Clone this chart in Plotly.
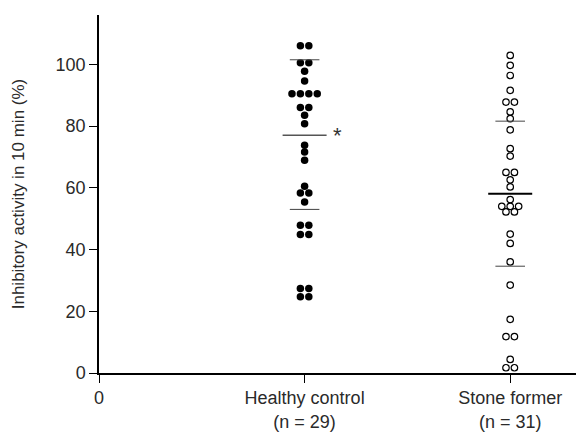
import plotly.graph_objects as go
from collections import Counter

# ---- data ----
healthy_values = [106, 106, 100.5, 100.5, 97.8, 94.6, 90.5, 90.5, 90.5, 90.5,
                  86, 86, 83.5, 80.8, 73.8, 71.6, 68.9, 60.5, 58.3, 58.3,
                  55.4, 47.9, 47.9, 44.9, 44.9, 27.4, 27.4, 24.7, 24.7]
stone_values = [102.9, 99.7, 96.4, 91.6, 87.8, 87.8, 84.6, 82.4, 78.8, 72.7,
                70.3, 65.0, 65.0, 62.6, 60.3, 56.2, 54.0, 54.0, 54.0, 52.2,
                52.2, 45.0, 42.0, 36.0, 28.5, 17.4, 11.8, 11.8, 4.4, 1.7, 1.7]
# summary lines drawn in the figure: mean, mean+SD, mean-SD
healthy_lines = {"mean": 77.0, "upper": 101.5, "lower": 53.0}
stone_lines = {"mean": 58.1, "upper": 81.6, "lower": 34.6}

tick_vals = [0, 1, 2]
tick_text = ["0", "Healthy control<br>(n = 29)", "Stone former<br>(n = 31)"]
y_ticks = [0, 20, 40, 60, 80, 100]

FONT = "Liberation Sans, Arial, sans-serif"
SPACING = 0.041


def spread(values, center):
    counts = Counter(values)
    seen = Counter()
    xs = []
    for v in values:
        n = counts[v]
        i = seen[v]
        seen[v] += 1
        xs.append(center + (i - (n - 1) / 2) * SPACING)
    return xs


fig = go.Figure()

fig.add_trace(go.Scatter(
    x=spread(healthy_values, 1), y=healthy_values, mode="markers",
    marker=dict(symbol="circle", size=7.5, color="black"),
    hoverinfo="skip", showlegend=False))
fig.add_trace(go.Scatter(
    x=spread(stone_values, 2), y=stone_values, mode="markers",
    marker=dict(symbol="circle-open", size=6.5, color="black", line=dict(width=1.2)),
    hoverinfo="skip", showlegend=False))


def add_lines(center, lines, mean_color, mean_width):
    for key, val in lines.items():
        half = 0.107 if key == "mean" else 0.072
        fig.add_trace(go.Scatter(
            x=[center - half, center + half], y=[val, val], mode="lines",
            line=dict(color=mean_color if key == "mean" else "#555",
                      width=mean_width if key == "mean" else 1.1),
            hoverinfo="skip", showlegend=False))


add_lines(1, healthy_lines, "#555", 1.5)
add_lines(2, stone_lines, "black", 2)

fig.add_annotation(x=1.158, y=healthy_lines["mean"], text="*", showarrow=False,
                   font=dict(family=FONT, size=22, color="#333"), yshift=0)

fig.update_layout(
    width=576, height=435,
    margin=dict(l=99, r=0, t=15, b=62),
    paper_bgcolor="white", plot_bgcolor="white",
    font=dict(family=FONT, size=18, color="#2a2a2a"),
    xaxis=dict(range=[0, 2.32], tickvals=tick_vals, ticktext=tick_text,
               showline=True, linecolor="black", linewidth=1.5,
               ticks="outside", ticklen=8, tickcolor="black", tickwidth=1,
               showgrid=False, zeroline=False, tickfont=dict(size=18),
               automargin=False),
    yaxis=dict(range=[0, 116], tickvals=y_ticks,
               showline=True, linecolor="black", linewidth=1.5,
               ticks="outside", ticklen=8, tickcolor="black", tickwidth=1,
               showgrid=False, zeroline=False, tickfont=dict(size=18),
               automargin=False,
               title=dict(text="Inhibitory activity in 10 min (%)",
                          font=dict(size=17), standoff=27)),
)

fig.write_html("out.html", config={"displayModeBar": False},
               post_script="document.body.style.margin='0';document.body.style.padding='0';")
